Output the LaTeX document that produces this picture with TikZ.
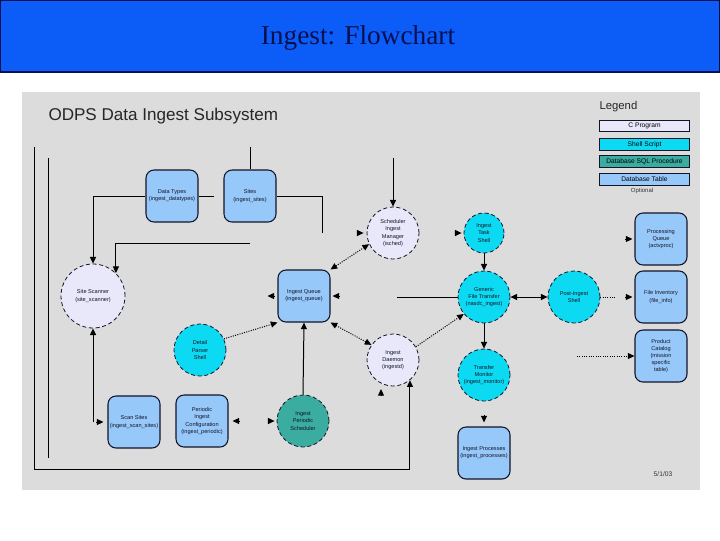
\documentclass[tikz,border=0pt]{standalone}
\usepackage{fontspec}
\setmainfont{Liberation Serif}
\setsansfont{Liberation Sans}
\usetikzlibrary{arrows.meta,calc}

\definecolor{bannerblue}{RGB}{12,92,248}
\definecolor{bannerline}{RGB}{8,16,80}
\definecolor{slidegray}{RGB}{220,220,220}
\definecolor{cprog}{RGB}{232,232,250}
\definecolor{shellcol}{RGB}{12,218,242}
\definecolor{sqlproc}{RGB}{58,172,160}
\definecolor{dbtable}{RGB}{150,200,250}
\definecolor{edgecol}{RGB}{20,20,40}

\tikzset{every picture/.style={line width=0.75pt}}
\tikzset{
  tinytext/.style={font=\sffamily\fontsize{4.2}{5.4}\selectfont, text=edgecol, align=center},
  tablebox/.style={tinytext, draw=edgecol, line width=0.8pt, fill=dbtable, rounded corners=6pt,
    minimum width=39pt, minimum height=39pt, inner sep=1pt},
  procnode/.style={tinytext, circle, draw=edgecol, line width=0.6pt, densely dashed, inner sep=0pt, minimum size=39pt},
  cnode/.style={procnode, fill=cprog},
  shellnode/.style={procnode, fill=shellcol},
  sqlnode/.style={procnode, fill=sqlproc},
  legendbox/.style={draw=edgecol, line width=0.6pt, minimum width=68pt, minimum height=8.5pt, inner sep=0pt,
    font=\sffamily\fontsize{5}{6}\selectfont},
  arr/.style={-{Triangle[length=5pt,width=4.5pt]}},
  dblarr/.style={{Triangle[length=5pt,width=4.5pt]}-{Triangle[length=5pt,width=4.5pt]}},
  dotarr/.style={arr, densely dotted},
  dotdbl/.style={dblarr, densely dotted},
  tip/.style={arr, shorten >=0pt}
}

\begin{document}
\begin{tikzpicture}[x=0.75pt,y=0.75pt,yscale=-1,xscale=1]
        \useasboundingbox (0,0) rectangle (720,540);
        
        %Shape: Title banner
        \draw [draw=bannerline, line width=1.2pt, fill=bannerblue] (0.6,0.6) rectangle (719.4,72) ;
        \node (title) at (358,38) [font=\fontsize{20.5}{24}\selectfont, text=bannerline] {Ingest: Flowchart};
        
        %Shape: Diagram area
        \fill [slidegray] (22,92) rectangle (700,490) ;
        \node (subsys) at (48,116) [anchor=west, inner sep=0pt, font=\sffamily\fontsize{12.8}{15}\selectfont, text=black!85] {ODPS Data Ingest Subsystem};
        
        %Legend
        \node (legend) at (599,107) [anchor=west, inner sep=0pt, font=\sffamily\fontsize{8.5}{10}\selectfont, text=black!85] {Legend};
        \node (lgC) at (644.5,126) [legendbox, fill=cprog] {C Program};
        \node (lgShell) at (644.5,144.5) [legendbox, fill=shellcol] {Shell Script};
        \node (lgSQL) at (644.5,161.5) [legendbox, fill=sqlproc] {Database SQL Procedure};
        \node (lgTable) at (644.5,179.5) [legendbox, fill=dbtable] {Database Table};
        \node (lgOpt) at (642,191) [font=\sffamily\fontsize{4.5}{5}\selectfont, text=black!80] {Optional};
        
        %Tables
        \node (datatypes) at (172,196) [tablebox] {Data Types\\(ingest\_datatypes)};
        \node (sites) at (250,196) [tablebox] {Sites\\(ingest\_sites)};
        \node (queue) at (304,296) [tablebox] {Ingest Queue\\(ingest\_queue)};
        \node (procq) at (661,239) [tablebox] {Processing\\Queue\\(actvproc)};
        \node (fileinv) at (661,297) [tablebox] {File Inventory\\(file\_info)};
        \node (catalog) at (661,356) [tablebox] {Product\\Catalog\\(mission\\specific\\table)};
        \node (scansites) at (134,422) [tablebox] {Scan Sites\\(ingest\_scan\_sites)};
        \node (perconf) at (202,421) [tablebox] {Periodic\\Ingest\\Configuration\\(ingest\_periodic)};
        \node (procs) at (484,453) [tablebox] {Ingest Processes\\(ingest\_processes)};
        
        %Programs and scripts
        \node (scanner) at (93,296) [cnode, minimum size=48pt] {Site Scanner\\(site\_scanner)};
        \node (sched) at (393,233) [cnode] {Scheduler\\Ingest\\Manager\\(isched)};
        \node (daemon) at (393,360) [cnode] {Ingest\\Daemon\\(ingestd)};
        \node (task) at (484,233) [shellnode, minimum size=30pt] {Ingest\\Task\\Shell};
        \node (generic) at (484,297) [shellnode] {Generic\\File Transfer\\(nasdc\_ingest)};
        \node (post) at (574,297) [shellnode] {Post-Ingest\\Shell};
        \node (parser) at (200,350) [shellnode] {Detail\\Parser\\Shell};
        \node (monitor) at (484,375) [shellnode] {Transfer\\Monitor\\(ingest\_monitor)};
        \node (persched) at (303,421) [sqlnode] {Ingest\\Periodic\\Scheduler};
        
        % Text Node
        \node (date) at (663,474) [font=\sffamily\fontsize{5}{6}\selectfont, text=black!80] {5/1/03};
        
        %Free ends
        \coordinate (outerTop) at (34,147);
        \coordinate (outerBot) at (34,469);
        \coordinate (innerTop) at (48,158);
        \coordinate (innerBot) at (48,458);
        \coordinate (sitesTop) at (250,147);
        \coordinate (sitesEnd) at (322,233);
        \coordinate (typesEnd) at (214,196);
        \coordinate (siteLink) at (250,243);
        \coordinate (schedTop) at (393,158);
        \coordinate (scanFoot) at (93,422);
        \coordinate (genLeft) at (397,297);
        \coordinate (catLeft) at (577,356);
        
        %Solid lines
        \draw [arr] (outerTop) -- (outerBot) -| (daemon.-50) ;
        \draw (innerTop) -- (innerBot) ;
        \draw [arr] (datatypes.west) -| (scanner.north) ;
        \draw (datatypes.east) -- (typesEnd) ;
        \draw (sitesTop) -- (sites.north) ;
        \draw (sites.east) -| (sitesEnd) ;
        \draw [arr] (siteLink) -| (scanner.45) ;
        \draw [arr] (schedTop) -- (sched.north) ;
        \draw [arr] (scanFoot) -- (scanner.south) ;
        \draw (genLeft) -- (generic.west) ;
        \draw [arr] (task.south) -- (generic.north) ;
        \draw [dblarr] (generic.east) -- (post.west) ;
        \draw [arr] (generic.south) -- (monitor.north) ;
        \draw [arr] (persched.north) -- (queue.south) ;
        
        %Dotted lines
        \draw [dotdbl] (queue.north east) -- (sched.205) ;
        \draw [dotdbl] (queue.south east) -- (daemon.145) ;
        \draw [dotarr] (parser.25) -- (queue.south west) ;
        \draw [dotarr] (daemon.30) -- (generic.220) ;
        \draw [densely dotted] (post.east) -- ++(15,0) ;
        \draw [dotarr] (catLeft) -- (catalog.west) ;
        
        %Loose arrow heads
        \draw [tip] ($(sched.west)+(-10,0)$) -- ++(7,0) ;
        \draw [tip] ($(queue.west)+(-3,0)$) -- ++(-7,0) ;
        \draw [tip] ($(queue.east)+(9,0)$) -- ++(-7,0) ;
        \draw [tip] ($(task.west)+(-9,0)$) -- ++(7,0) ;
        \draw [tip] ($(procq.west)+(-9,0)$) -- ++(7,0) ;
        \draw [tip] ($(fileinv.west)+(-9,0)$) -- ++(7,0) ;
        \draw [tip] ($(daemon.center)+(-12,36)$) -- ++(0,-7) ;
        \draw [tip] ($(procs.north)+(0,-11)$) -- ++(0,7) ;
        \draw [tip] ($(persched.west)+(-9,0)$) -- ++(7,0) ;
        \draw [tip] ($(perconf.east)+(11,0)$) -- ++(-7,0) ;
        \draw [tip] ($(scansites.west)+(-11,0)$) -- ++(7,0) ;
\end{tikzpicture}
\end{document}
